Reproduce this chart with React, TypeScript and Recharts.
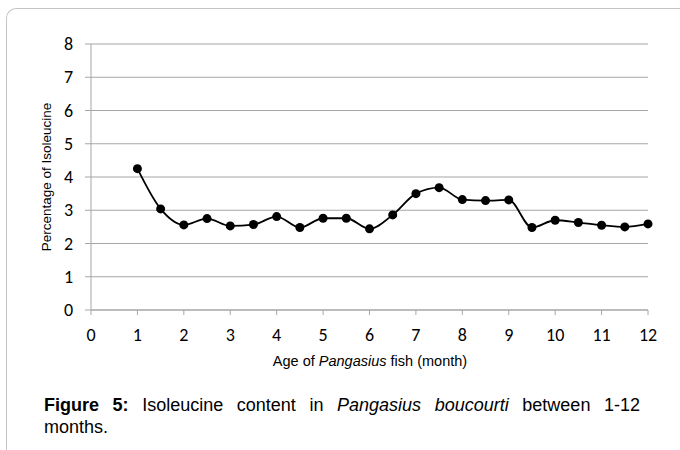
import { CartesianGrid, Line, LineChart, XAxis, YAxis } from "recharts"

// age in months, sampled every half month
const months = [1, 1.5, 2, 2.5, 3, 3.5, 4, 4.5, 5, 5.5, 6, 6.5, 7, 7.5, 8, 8.5, 9, 9.5, 10, 10.5, 11, 11.5, 12]
const isoleucine = [4.25, 3.04, 2.56, 2.75, 2.53, 2.57, 2.81, 2.48, 2.76, 2.76, 2.44, 2.86, 3.5, 3.68, 3.32, 3.29, 3.31, 2.48, 2.7, 2.63, 2.55, 2.5, 2.59]
const xTicks = [0, 1, 2, 3, 4, 5, 6, 7, 8, 9, 10, 11, 12]
const yTicks = [0, 1, 2, 3, 4, 5, 6, 7, 8]

const data = months.map((m, i) => ({ month: m, value: isoleucine[i] }))

const gray = "#a6a6a6"
const tickFamily = "Carlito, 'Open Sans', sans-serif"

const XTick = (props: any) => (
  <text x={props.x} y={props.y} dy={14} textAnchor="middle" fontFamily={tickFamily} fontSize={18} fill="#000">
    {props.payload.value}
  </text>
)

const YTick = (props: any) => (
  <text x={props.x} y={props.y} dy={6} textAnchor="end" fontFamily={tickFamily} fontSize={18} fill="#000">
    {props.payload.value}
  </text>
)

export default function App() {
  return (
    <div style={{ position: "absolute", left: 0, top: 0, width: 680, height: 450, background: "#fff", overflow: "hidden" }}>
      <div
        style={{
          position: "absolute",
          left: 6,
          top: 8,
          width: 700,
          height: 470,
          borderLeft: "1px solid #c4c4c4",
          borderTop: "1px solid #c4c4c4",
          borderTopLeftRadius: 10,
        }}
      />
      <div style={{ position: "absolute", left: 0, top: 0 }}>
        <LineChart width={680} height={380} data={data} margin={{ top: 44, right: 32, bottom: 40, left: 0 }}>
          <CartesianGrid vertical={false} stroke={gray} strokeWidth={1.2} />
          <XAxis
            dataKey="month"
            type="number"
            domain={[0, 12]}
            ticks={xTicks}
            interval={0}
            height={30}
            stroke={gray}
            tickSize={5}
            tickMargin={12}
            tick={<XTick />}
          />
          <YAxis
            type="number"
            domain={[0, 8]}
            ticks={yTicks}
            interval={0}
            width={91}
            stroke={gray}
            tickSize={6}
            tickMargin={12}
            tick={<YTick />}
          />
          <Line
            type="monotone"
            dataKey="value"
            stroke="#000"
            strokeWidth={1.8}
            dot={{ r: 4.5, fill: "#000", stroke: "#000", strokeWidth: 0 }}
            isAnimationActive={false}
          />
        </LineChart>
      </div>
      <div
        style={{
          position: "absolute",
          left: 46,
          top: 177,
          transform: "translate(-50%, -50%) rotate(-90deg)",
          whiteSpace: "nowrap",
          fontFamily: "'Liberation Sans', Arial, sans-serif",
          fontSize: 13.5,
        }}
      >
        Percentage of Isoleucine
      </div>
      <div
        style={{
          position: "absolute",
          left: 370,
          top: 361,
          transform: "translate(-50%, -50%)",
          whiteSpace: "nowrap",
          fontFamily: "'Liberation Sans', Arial, sans-serif",
          fontSize: 14.5,
        }}
      >
        Age of <i>Pangasius</i> fish (month)
      </div>
      <div
        style={{
          position: "absolute",
          left: 44,
          top: 394,
          width: 596,
          fontFamily: "'Liberation Sans', Arial, sans-serif",
          fontSize: 18,
          lineHeight: "22px",
        }}
      >
        <div style={{ textAlign: "justify", textAlignLast: "justify" }}>
          <b>Figure 5:</b> Isoleucine content in <i>Pangasius boucourti</i> between 1-12
        </div>
        <div>months.</div>
      </div>
    </div>
  )
}
